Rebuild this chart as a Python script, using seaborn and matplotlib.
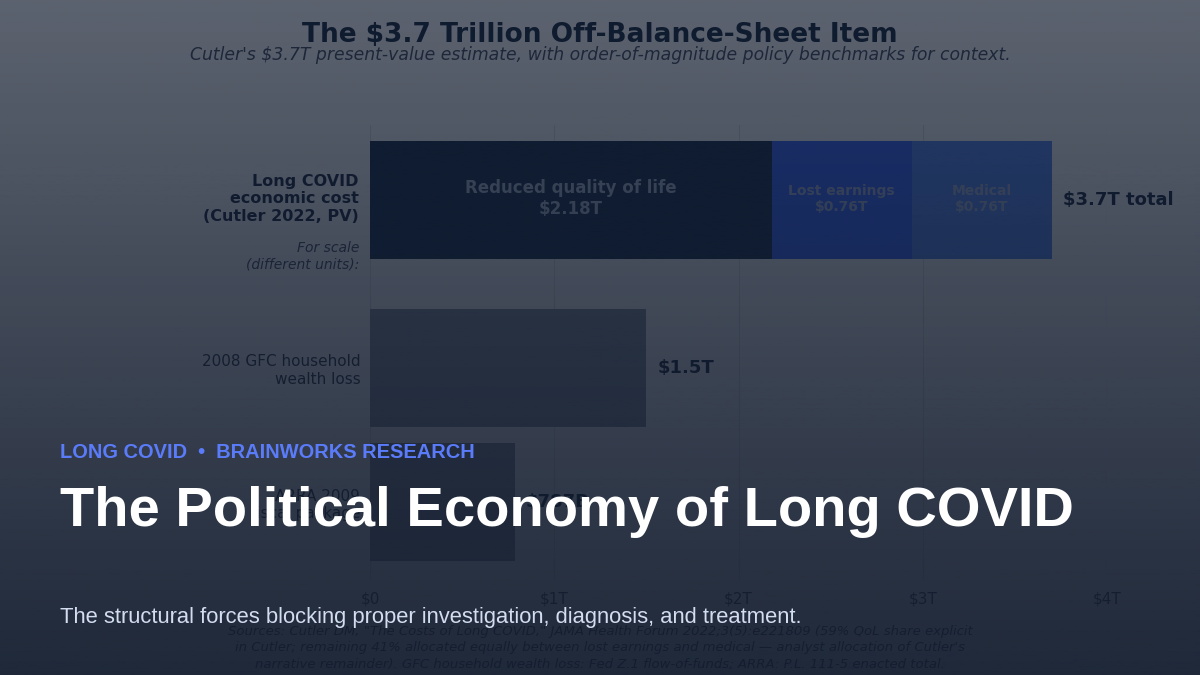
import numpy as np
import pandas as pd
import seaborn as sns
import matplotlib.pyplot as plt

# data
rows = ['Long COVID\neconomic cost\n(Cutler 2022, PV)', '2008 GFC household\nwealth loss', 'ARRA 2009\nfiscal package']
seg_names = ['Reduced quality of life', 'Lost earnings', 'Medical']
seg_values = [2.18, 0.76, 0.76]
seg_colors = ['#0a1d3c', '#2a5cff', '#4a80f0']
bench_values = [1.5, 0.787]
bench_labels = ['$1.5T', '$787B']
ticks = [0, 1, 2, 3, 4]
tick_labels = ['$0', '$1T', '$2T', '$3T', '$4T']

sns.set_style('white')
plt.rcParams['font.family'] = ['DejaVu Sans']

fig = plt.figure(figsize=(12, 6.75), dpi=100)
fig.patch.set_facecolor('white')
ax = fig.add_axes([370 / 1200, 1 - 580 / 675, (1107 - 370) / 1200, (580 - 125) / 675])

H = 0.88
df = pd.DataFrame({'row': rows[1:], 'value': bench_values})
sns.barplot(data=df, y='row', x='value', ax=ax, color='#7d8a99', width=H,
            order=rows, linewidth=0)
y0 = -0.25
left = 0
for name, v, c in zip(seg_names, seg_values, seg_colors):
    ax.barh(y0, v, left=left, height=H, color=c, linewidth=0)
    big = name.startswith('Reduced')
    ax.text(left + v / 2, y0 - 0.01, f'{name}\n${v:.2f}T', ha='center', va='center',
            color='#a9b6cf' if big else '#a0b0d8', fontsize=12 if big else 10,
            fontweight='bold')
    left += v
ax.text(left + 0.06, y0, '$3.7T total', va='center', fontsize=13, fontweight='bold', color='#0b1a33')
for i, (v, lab) in enumerate(zip(bench_values, bench_labels)):
    ax.text(v + 0.06, i + 1, lab, va='center', fontsize=13, fontweight='bold', color='#0b1a33')

ax.set_xlim(0, 4)
ax.set_ylim(2.58, -0.81)
ax.set_xticks(ticks)
ax.set_xticklabels(tick_labels, fontsize=11, color='#333d4a')
ax.set_yticks([1, 2])
ax.set_yticklabels([rows[1], rows[2]], fontsize=11, color='#222a36')
ax.tick_params(length=0, axis='y', pad=7)
ax.tick_params(length=0, axis='x', pad=8)
ax.text(-0.06, y0 - 0.01, rows[0], ha='right', va='center', fontsize=11.5, fontweight='bold',
        color='#0b1a33')
ax.text(-0.06, 0.17, 'For scale\n(different units):', ha='right', va='center', fontsize=10,
        style='italic', color='#3a4555')
ax.set_xlabel('')
ax.set_ylabel('')
ax.grid(axis='x', color='#e2e2e2', linewidth=0.8)
ax.set_axisbelow(True)
sns.despine(ax=ax, left=True, bottom=True)
ax.set_facecolor('white')

fig.text(0.5, 1 - 35 / 675, 'The $3.7 Trillion Off-Balance-Sheet Item', ha='center', va='center',
         fontsize=19, fontweight='bold', color='#0b1a33')
fig.text(0.5, 1 - 55 / 675, "Cutler's $3.7T present-value estimate, with order-of-magnitude policy benchmarks for context.",
         ha='center', va='center', fontsize=12.4, style='italic', color='#3a4454')
fig.text(0.5, 1 - 648 / 675,
         "Sources: Cutler DM, \"The Costs of Long COVID,\" JAMA Health Forum 2022;3(5):e221809 (59% QoL share explicit\n"
         "in Cutler; remaining 41% allocated equally between lost earnings and medical \u2014 analyst allocation of Cutler's\n"
         "narrative remainder). GFC household wealth loss: Fed Z.1 flow-of-funds; ARRA: P.L. 111-5 enacted total.",
         ha='center', va='center', fontsize=9.5, style='italic', color='#333d4a', linespacing=1.3)

# dark gradient overlay
ov = fig.add_axes([0, 0, 1, 1], zorder=10)
ov.axis('off')
alpha = np.linspace(0.69, 0.95, 256)[:, None]
img = np.zeros((256, 1, 4))
img[..., 0] = 18 / 255
img[..., 1] = 28 / 255
img[..., 2] = 46 / 255
img[..., 3] = alpha
ov.imshow(img, aspect='auto', extent=[0, 1, 0, 1])
ov.set_xlim(0, 1)
ov.set_ylim(0, 1)

sans = ['Liberation Sans', 'DejaVu Sans']
ov.text(60 / 1200, 1 - 452 / 675, 'LONG COVID  \u2022  BRAINWORKS RESEARCH', fontsize=14.4,
        fontweight='bold', color='#5b7cfa', va='center', family=sans)
ov.text(60 / 1200, 1 - 512 / 675, 'The Political Economy of Long COVID', fontsize=40.4,
        fontweight='bold', color='white', va='center', family=sans)
ov.text(60 / 1200, 1 - 617 / 675,
        'The structural forces blocking proper investigation, diagnosis, and treatment.',
        fontsize=15.8, color='#d3ddf0', va='center', family=sans)

fig.savefig('out.png', dpi=100)
